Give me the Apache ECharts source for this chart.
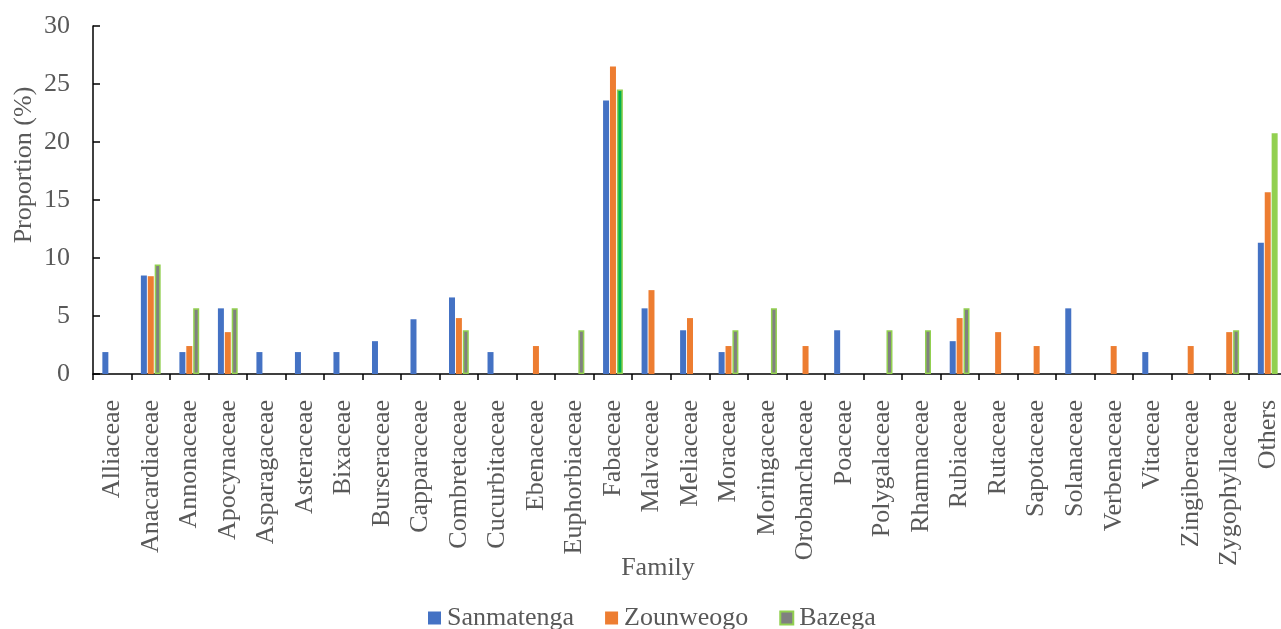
<!DOCTYPE html>
<html lang="en">
  <head>
    <meta charset="UTF-8" />
    <title>Plant families by province</title>
    <style>
      html,
      body {
        margin: 0;
        padding: 0;
        background: #ffffff;
        overflow: hidden;
      }
      /* a little wider than the window: the plot runs past the right edge */
      #chart-container {
        width: 1290px;
        height: 629px;
      }
    </style>
    <script src="https://cdn.jsdelivr.net/npm/echarts@6/dist/echarts.min.js"></script>
  </head>
  <body>
    <div id="chart-container"></div>
    <script>
      // proportions (%) of species per family
      const families = [
        "Alliaceae", "Anacardiaceae", "Annonaceae", "Apocynaceae", "Asparagaceae",
        "Asteraceae", "Bixaceae", "Burseraceae", "Capparaceae", "Combretaceae",
        "Cucurbitaceae", "Ebenaceae", "Euphorbiaceae", "Fabaceae", "Malvaceae",
        "Meliaceae", "Moraceae", "Moringaceae", "Orobanchaceae", "Poaceae",
        "Polygalaceae", "Rhamnaceae", "Rubiaceae", "Rutaceae", "Sapotaceae",
        "Solanaceae", "Verbenaceae", "Vitaceae", "Zingiberaceae", "Zygophyllaceae",
        "Others",
      ];
      const sanmatenga = [
        1.89, 8.49, 1.89, 5.66, 1.89, 1.89, 1.89, 2.83, 4.72, 6.6, 1.89, 0, 0,
        23.58, 5.66, 3.77, 1.89, 0, 0, 3.77, 0, 0, 2.83, 0, 0, 5.66, 0, 1.89, 0,
        0, 11.32,
      ];
      const zounweogo = [
        0, 8.43, 2.41, 3.61, 0, 0, 0, 0, 0, 4.82, 0, 2.41, 0, 26.51, 7.23, 4.82,
        2.41, 0, 2.41, 0, 0, 0, 4.82, 3.61, 2.41, 0, 2.41, 0, 2.41, 3.61, 15.66,
      ];
      const bazega = [
        0, 9.43, 5.66, 5.66, 0, 0, 0, 0, 0, 3.77, 0, 0, 3.77, 24.53, 0, 0, 3.77,
        5.66, 0, 0, 3.77, 3.77, 5.66, 0, 0, 0, 0, 0, 0, 3.77, 20.75,
      ];
      const yTicks = [0, 5, 10, 15, 20, 25, 30];

      const font = "'Liberation Serif', 'Times New Roman', serif";
      const textColor = "#595959";

      function toBars(values) {
        return values.map((v) => (v === 0 ? "-" : v));
      }

      // Bazega bars are grey with a green outline, except two of them
      function bazegaBars(values) {
        return values.map((v, i) => {
          if (v === 0) return "-";
          if (families[i] === "Fabaceae") {
            return { value: v, itemStyle: { color: "#00b050" } };
          }
          if (families[i] === "Others") {
            return { value: v, itemStyle: { color: "#92d050" } };
          }
          return v;
        });
      }

      let dom = document.getElementById("chart-container");
      let myChart = echarts.init(dom, null, { renderer: "canvas" });
      let option = {
        animation: false,
        textStyle: { fontFamily: font },
        grid: { left: 93, width: 1194, top: 26, height: 348, containLabel: false },
        legend: {
          left: 423,
          top: 600,
          itemWidth: 13,
          itemHeight: 13,
          itemGap: 31,
          icon: "rect",
          textStyle: {
            fontFamily: font,
            fontSize: 26,
            color: textColor,
            padding: [0, 0, 0, 1],
          },
          data: ["Sanmatenga", "Zounweogo", "Bazega"],
        },
        xAxis: {
          type: "category",
          data: families,
          name: "Family",
          nameLocation: "middle",
          nameGap: 181,
          nameMoveOverlap: false,
          nameTextStyle: {
            fontFamily: font,
            fontSize: 26,
            color: textColor,
            padding: [0, 64, 0, 0],
          },
          axisLine: { lineStyle: { color: "#000000", width: 1.5 } },
          axisTick: { show: true, length: 6, lineStyle: { color: "#000000", width: 1.5 } },
          axisLabel: {
            interval: 0,
            rotate: 90,
            margin: 26,
            fontFamily: font,
            fontSize: 26,
            color: textColor,
          },
        },
        yAxis: {
          type: "value",
          min: yTicks[0],
          max: yTicks[yTicks.length - 1],
          interval: 5,
          name: "Proportion (%)",
          nameLocation: "middle",
          nameGap: 56,
          nameMoveOverlap: false,
          nameTextStyle: {
            fontFamily: font,
            fontSize: 26,
            color: textColor,
            padding: [0, 0, 0, 70],
          },
          axisLine: { show: true, lineStyle: { color: "#000000", width: 1.5 } },
          axisTick: {
            show: true,
            inside: true,
            length: 7,
            lineStyle: { color: "#000000", width: 1.5 },
          },
          splitLine: { show: false },
          axisLabel: {
            margin: 23,
            fontFamily: font,
            fontSize: 26,
            color: textColor,
          },
        },
        series: [
          {
            name: "Sanmatenga",
            type: "bar",
            barWidth: 6,
            barGap: "15%",
            itemStyle: { color: "#4472c4" },
            data: toBars(sanmatenga),
          },
          {
            name: "Zounweogo",
            type: "bar",
            barWidth: 6,
            barGap: "15%",
            itemStyle: { color: "#ed7d31" },
            data: toBars(zounweogo),
          },
          {
            name: "Bazega",
            type: "bar",
            barWidth: 6,
            barGap: "15%",
            itemStyle: { color: "#808080", borderColor: "#92d050", borderWidth: 1.5 },
            data: bazegaBars(bazega),
          },
        ],
      };
      myChart.setOption(option);
      window.addEventListener("resize", myChart.resize);
    </script>
  </body>
</html>
